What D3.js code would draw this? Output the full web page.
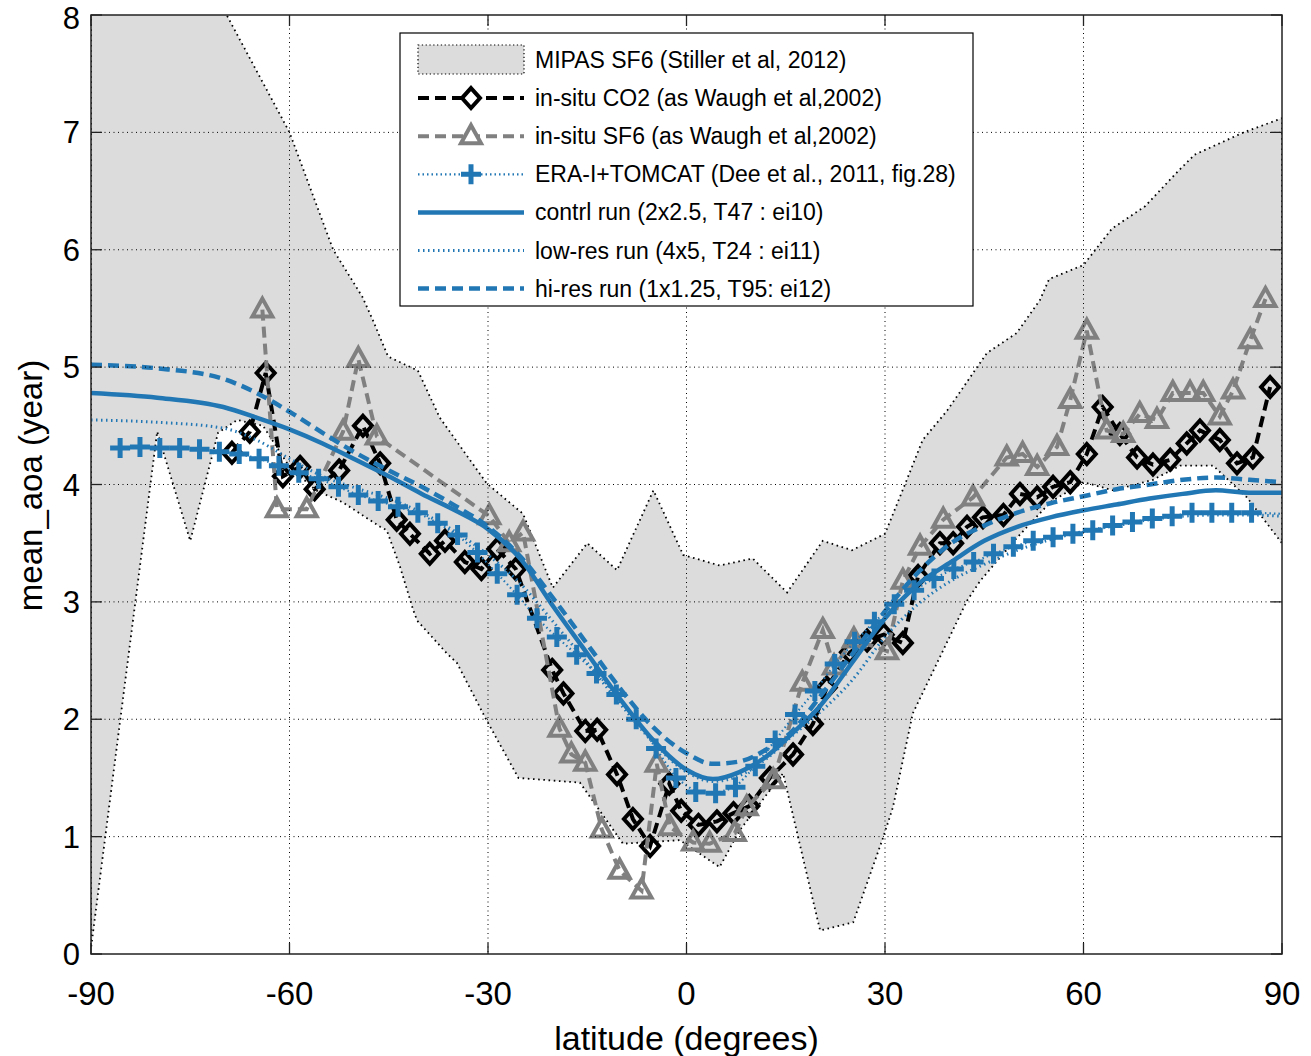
<!DOCTYPE html>
<html><head><meta charset="utf-8">
<script src="https://cdn.jsdelivr.net/npm/d3@7"></script>
<style>body{margin:0;background:#fff}text{font-family:"Liberation Sans",Arial,sans-serif}</style>
</head><body><svg id="c" width="1311" height="1056"></svg>
<script>
// ---------- data ----------
const xTicks = [-90, -60, -30, 0, 30, 60, 90];
const yTicks = [0, 1, 2, 3, 4, 5, 6, 7, 8];

// MIPAS SF6 range (Stiller et al, 2012)
const mipasUpperLat = [-90, -69.5, -60, -53.4, -49, -47.4, -45.1, -40.6, -37.3, -30.2, -24.7, -20.2, -15, -10.5, -5, -0.5, 5, 10, 15.2, 20.6, 25, 30, 33.3, 35.7, 39.4, 45.4, 49.9, 53.4, 54.8, 60, 64.3, 69.3, 74.3, 76.8, 84.2, 90];
const mipasUpperVal = [11.2, 8.0, 7.0, 6.0, 5.6, 5.4, 5.09, 4.97, 4.57, 4.01, 3.75, 3.12, 3.5, 3.27, 3.95, 3.40, 3.31, 3.37, 3.08, 3.52, 3.44, 3.58, 4.04, 4.38, 4.63, 5.12, 5.29, 5.57, 5.75, 5.87, 6.18, 6.37, 6.67, 6.81, 7.0, 7.12];
const mipasLowerLat = [-90, -80, -75, -70.8, -67.9, -64, -60, -56, -52, -46.3, -45.3, -43.3, -41.3, -40.7, -36.2, -34.7, -30.2, -25.4, -16.1, -9.6, -1.0, 5, 8, 12, 14.6, 19.1, 20.2, 25.2, 29.7, 31.2, 34.2, 42.4, 44.4, 50, 55, 60, 64.5, 70.5, 74.6, 79.6, 84.7, 90];
const mipasLowerVal = [0.05, 4.45, 3.52, 4.44, 4.55, 4.5, 4.15, 3.95, 3.85, 3.64, 3.61, 3.30, 2.93, 2.84, 2.56, 2.48, 1.99, 1.50, 1.46, 0.94, 0.97, 0.74, 1.05, 1.35, 1.54, 0.46, 0.20, 0.27, 0.99, 1.25, 2.05, 3.01, 3.18, 3.55, 3.85, 4.02, 3.95, 4.04, 4.16, 4.16, 3.89, 3.5];

// in-situ CO2 (as Waugh et al, 2002)
const co2Lat = [-68.7, -66.0, -63.6, -61.0, -58.4, -56.2, -52.5, -48.9, -46.3, -43.8, -41.8, -38.8, -36.5, -33.5, -31.0, -28.6, -25.8, -20.3, -18.6, -15.3, -13.5, -10.5, -8.1, -5.5, -2.6, -0.8, 1.8, 4.6, 7.1, 9.5, 12.6, 16.1, 19.1, 21.2, 24.7, 27.3, 29.8, 32.7, 35.0, 38.3, 40.3, 42.4, 44.8, 47.9, 50.4, 53.0, 55.4, 58.0, 60.5, 62.9, 65.5, 68.1, 70.5, 73.1, 75.6, 77.6, 80.6, 83.2, 85.6, 88.2];
const co2Val = [4.27, 4.45, 4.95, 4.07, 4.15, 3.96, 4.12, 4.50, 4.18, 3.70, 3.58, 3.41, 3.52, 3.34, 3.28, 3.45, 3.28, 2.42, 2.22, 1.90, 1.91, 1.53, 1.15, 0.92, 1.45, 1.22, 1.10, 1.13, 1.20, 1.26, 1.50, 1.70, 1.96, 2.27, 2.57, 2.67, 2.72, 2.65, 3.22, 3.50, 3.50, 3.64, 3.72, 3.74, 3.92, 3.89, 3.98, 4.02, 4.26, 4.66, 4.43, 4.23, 4.17, 4.21, 4.35, 4.46, 4.38, 4.18, 4.23, 4.83];

// in-situ SF6 (as Waugh et al, 2002)
const sf6Lat = [-64.1, -61.9, -57.4, -51.9, -49.6, -46.8, -29.8, -26.8, -24.7, -19.2, -17.4, -15.3, -12.8, -10.1, -6.8, -4.5, -2.5, 1.0, 3.5, 7.3, 9.1, 13.1, 17.5, 20.6, 22.3, 25.3, 30.3, 32.7, 35.3, 38.8, 43.3, 48.4, 50.8, 53.0, 56.0, 58.0, 60.5, 63.5, 66.0, 68.5, 71.1, 73.5, 76.1, 78.1, 80.6, 82.6, 85.2, 87.5];
const sf6Val = [5.49, 3.79, 3.79, 4.45, 5.07, 4.41, 3.73, 3.50, 3.59, 1.92, 1.70, 1.63, 1.06, 0.71, 0.54, 1.62, 1.08, 0.95, 0.94, 1.03, 1.25, 1.48, 2.31, 2.76, 2.45, 2.68, 2.58, 3.18, 3.47, 3.70, 3.89, 4.23, 4.26, 4.15, 4.32, 4.72, 5.31, 4.46, 4.43, 4.60, 4.55, 4.78, 4.78, 4.78, 4.58, 4.80, 5.23, 5.58];

// ERA-I+TOMCAT (Dee et al., 2011, fig.28)
const eraLat = [-85.6, -82.6, -79.6, -76.6, -73.6, -70.6, -67.6, -64.6, -61.6, -58.6, -55.6, -52.6, -49.6, -46.6, -43.6, -40.6, -37.6, -34.6, -31.6, -28.6, -25.6, -22.6, -19.6, -16.6, -13.6, -10.6, -7.6, -4.6, -1.6, 1.4, 4.4, 7.4, 10.4, 13.4, 16.4, 19.4, 22.4, 25.4, 28.4, 31.4, 34.4, 37.4, 40.4, 43.4, 46.4, 49.4, 52.4, 55.4, 58.4, 61.4, 64.4, 67.4, 70.4, 73.4, 76.4, 79.4, 82.4, 85.4, 90];
const eraVal = [4.31, 4.32, 4.31, 4.31, 4.30, 4.28, 4.26, 4.22, 4.16, 4.10, 4.05, 3.98, 3.91, 3.86, 3.81, 3.76, 3.67, 3.57, 3.42, 3.24, 3.06, 2.86, 2.70, 2.55, 2.39, 2.21, 2.00, 1.75, 1.50, 1.38, 1.37, 1.42, 1.60, 1.82, 2.04, 2.24, 2.47, 2.66, 2.83, 2.98, 3.10, 3.20, 3.28, 3.34, 3.41, 3.47, 3.52, 3.55, 3.58, 3.61, 3.65, 3.68, 3.71, 3.73, 3.76, 3.76, 3.76, 3.76, 3.75];
const eraMarkerMaxLat = 86;

// model runs
const runLat = [-90, -80, -70, -65, -60, -55, -50, -45, -40, -35, -30, -25, -20, -15, -10, -5, 0, 4, 8, 12, 16, 20, 25, 30, 35, 40, 45, 50, 55, 60, 65, 70, 75, 80, 85, 90];
const ctrlVal = [4.78, 4.74, 4.66, 4.57, 4.47, 4.35, 4.21, 4.07, 3.92, 3.78, 3.62, 3.36, 2.95, 2.56, 2.17, 1.82, 1.57, 1.49, 1.55, 1.68, 1.88, 2.10, 2.48, 2.86, 3.15, 3.34, 3.52, 3.64, 3.72, 3.78, 3.83, 3.88, 3.92, 3.95, 3.93, 3.93];
const lowVal  = [4.55, 4.53, 4.48, 4.38, 4.22, 4.07, 3.97, 3.88, 3.76, 3.60, 3.40, 3.15, 2.82, 2.48, 2.13, 1.80, 1.55, 1.47, 1.52, 1.66, 1.86, 2.05, 2.33, 2.70, 2.98, 3.18, 3.32, 3.44, 3.53, 3.60, 3.65, 3.70, 3.73, 3.74, 3.74, 3.73];
const hiVal   = [5.02, 4.99, 4.90, 4.78, 4.62, 4.44, 4.27, 4.12, 3.98, 3.82, 3.64, 3.38, 3.02, 2.64, 2.26, 1.93, 1.71, 1.62, 1.64, 1.74, 1.90, 2.18, 2.55, 2.92, 3.25, 3.50, 3.65, 3.76, 3.84, 3.90, 3.96, 4.00, 4.04, 4.06, 4.04, 4.02];

const legendLabels = ["MIPAS SF6 (Stiller et al, 2012)", "in-situ CO2 (as Waugh et al,2002)", "in-situ SF6 (as Waugh et al,2002)", "ERA-I+TOMCAT (Dee et al., 2011, fig.28)", "contrl run (2x2.5, T47 : ei10)", "low-res run (4x5, T24 : ei11)", "hi-res run (1x1.25, T95: ei12)"];

// ---------- drawing ----------
const L = 91, R = 1282, T = 15, B = 954;
const blue = "#2077b4", gray = "#808080";
const svg = d3.select("#c");
const x = d3.scaleLinear().domain([-90, 90]).range([L, R]);
const y = d3.scaleLinear().domain([0, 8]).range([B, T]);

svg.append("defs").append("clipPath").attr("id", "clip")
  .append("rect").attr("x", L).attr("y", T).attr("width", R - L).attr("height", B - T);

const plot = svg.append("g").attr("clip-path", "url(#clip)");

// MIPAS band
const upper = mipasUpperLat.map((d, i) => [d, mipasUpperVal[i]]);
const lower = mipasLowerLat.map((d, i) => [d, mipasLowerVal[i]]).reverse();
const poly = upper.concat(lower);
const lineGen = d3.line().x(d => x(d[0])).y(d => y(d[1]));
const smoothGen = d3.line().x(d => x(d[0])).y(d => y(d[1])).curve(d3.curveMonotoneX);
plot.append("path").attr("d", lineGen(poly) + "Z")
  .attr("fill", "#dcdcdc").attr("stroke", "#000").attr("stroke-width", 1.8)
  .attr("stroke-dasharray", "1.6,3.6");

// grid
const grid = svg.append("g");
xTicks.slice(1, -1).forEach(t => grid.append("line").attr("x1", x(t)).attr("x2", x(t)).attr("y1", T).attr("y2", B)
  .attr("stroke", "#000").attr("stroke-width", 1).attr("stroke-dasharray", "1,3.5"));
yTicks.slice(1, -1).forEach(t => grid.append("line").attr("y1", y(t)).attr("y2", y(t)).attr("x1", L).attr("x2", R)
  .attr("stroke", "#000").attr("stroke-width", 1).attr("stroke-dasharray", "1,3.5"));

// marker paths
const diamondPath = (cx, cy) => `M${cx},${cy - 10}L${cx + 9},${cy}L${cx},${cy + 10}L${cx - 9},${cy}Z`;
const triPath = (cx, cy) => `M${cx},${cy - 11}L${cx + 10},${cy + 7}L${cx - 10},${cy + 7}Z`;
const plusPath = (cx, cy) => `M${cx - 10},${cy}L${cx + 10},${cy}M${cx},${cy - 10}L${cx},${cy + 10}`;

function series(lat, val, opts) {
  const pts = lat.map((d, i) => [d, val[i]]);
  plot.append("path").attr("d", (opts.smooth ? smoothGen : lineGen)(pts)).attr("fill", "none")
    .attr("stroke", opts.color).attr("stroke-width", opts.width)
    .attr("stroke-dasharray", opts.dash || null);
  if (opts.marker) {
    const mpts = opts.markerFilter ? pts.filter(opts.markerFilter) : pts;
    plot.append("g").selectAll("path").data(mpts).join("path")
      .attr("d", d => opts.marker(x(d[0]), y(d[1])))
      .attr("fill", "none").attr("stroke", opts.color).attr("stroke-width", opts.mw)
      .attr("stroke-linejoin", "miter");
  }
}

series(co2Lat, co2Val, {color: "#000", width: 4, dash: "11,6", marker: diamondPath, mw: 4});
series(sf6Lat, sf6Val, {color: gray, width: 4, dash: "11,6", marker: triPath, mw: 4});
series(eraLat, eraVal, {color: blue, width: 2.2, dash: "1.5,3", marker: plusPath, mw: 5, markerFilter: d => d[0] < eraMarkerMaxLat});
series(runLat, ctrlVal, {color: blue, width: 4.5, smooth: true});
series(runLat, lowVal, {color: blue, width: 3, dash: "1.5,3.5", smooth: true});
series(runLat, hiVal, {color: blue, width: 4.5, dash: "11,6", smooth: true});

// axes box and ticks
const ax = svg.append("g");
ax.append("rect").attr("x", L).attr("y", T).attr("width", R - L).attr("height", B - T)
  .attr("fill", "none").attr("stroke", "#222").attr("stroke-width", 1.5);
xTicks.forEach(t => {
  ax.append("line").attr("x1", x(t)).attr("x2", x(t)).attr("y1", B).attr("y2", B - 11).attr("stroke", "#222").attr("stroke-width", 1.3);
  ax.append("line").attr("x1", x(t)).attr("x2", x(t)).attr("y1", T).attr("y2", T + 11).attr("stroke", "#222").attr("stroke-width", 1.3);
  ax.append("text").attr("x", x(t)).attr("y", 1005).attr("text-anchor", "middle")
    .attr("font-size", 33).attr("fill", "#000").text(t);
});
yTicks.forEach(t => {
  ax.append("line").attr("x1", L).attr("x2", L + 11).attr("y1", y(t)).attr("y2", y(t)).attr("stroke", "#222").attr("stroke-width", 1.3);
  ax.append("line").attr("x1", R).attr("x2", R - 11).attr("y1", y(t)).attr("y2", y(t)).attr("stroke", "#222").attr("stroke-width", 1.3);
  ax.append("text").attr("x", 80).attr("y", Math.max(y(t) + 11, 29)).attr("text-anchor", "end")
    .attr("font-size", 31).attr("fill", "#000").text(t);
});
ax.append("text").attr("x", (L + R) / 2).attr("y", 1050).attr("text-anchor", "middle")
  .attr("font-size", 34).attr("fill", "#000").text("latitude (degrees)");
ax.append("text").attr("transform", `translate(42,${(T + B) / 2 + 1}) rotate(-90)`).attr("text-anchor", "middle")
  .attr("font-size", 33).attr("fill", "#000").text("mean_aoa (year)");

// legend
const lg = svg.append("g");
lg.append("rect").attr("x", 400).attr("y", 33).attr("width", 573).attr("height", 273)
  .attr("fill", "#fff").attr("stroke", "#000").attr("stroke-width", 1.2);
const rowY = i => 60 + i * 38.1;
const sx0 = 418, sx1 = 524, smid = 471;
lg.append("rect").attr("x", sx0).attr("y", rowY(0) - 15).attr("width", sx1 - sx0).attr("height", 29)
  .attr("fill", "#dcdcdc").attr("stroke", "#000").attr("stroke-width", 1.2).attr("stroke-dasharray", "1.3,2.5");
const legStyles = [null,
  {color: "#000", width: 4, dash: "11,6", marker: diamondPath, mw: 4},
  {color: gray, width: 4, dash: "11,6", marker: triPath, mw: 4},
  {color: blue, width: 2.2, dash: "1.5,3", marker: plusPath, mw: 5},
  {color: blue, width: 4.5},
  {color: blue, width: 3, dash: "1.5,3.5"},
  {color: blue, width: 4.5, dash: "11,6"}];
legStyles.forEach((s, i) => {
  if (!s) return;
  lg.append("line").attr("x1", sx0).attr("x2", sx1).attr("y1", rowY(i)).attr("y2", rowY(i))
    .attr("stroke", s.color).attr("stroke-width", s.width).attr("stroke-dasharray", s.dash || null);
  if (s.marker) lg.append("path").attr("d", s.marker(smid, rowY(i))).attr("fill", "#fff")
    .attr("stroke", s.color).attr("stroke-width", s.mw);
});
legendLabels.forEach((t, i) => lg.append("text").attr("x", 535).attr("y", rowY(i) + 8)
  .attr("font-size", 23).attr("fill", "#000").text(t));
</script></body></html>
